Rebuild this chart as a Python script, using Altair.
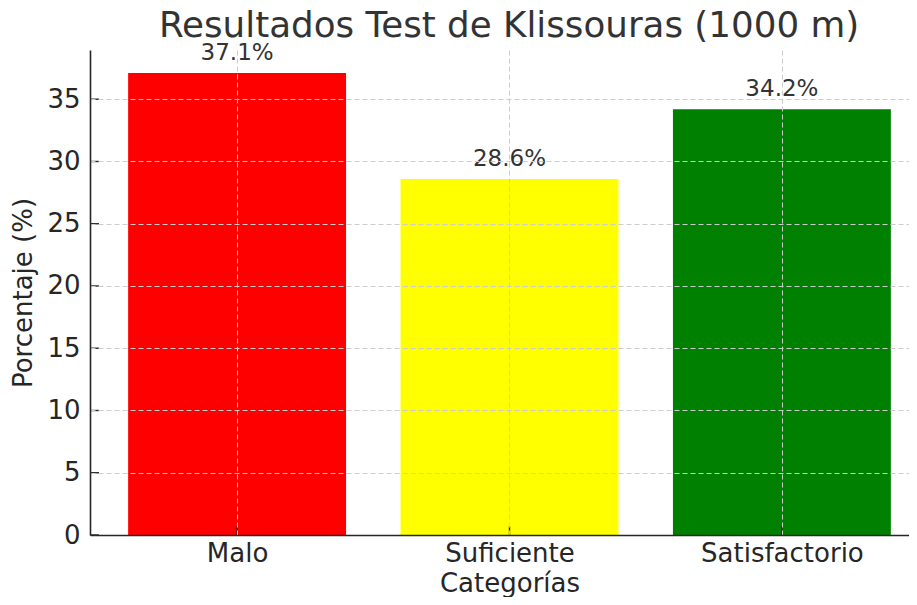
import altair as alt
import pandas as pd

categorias = ["Malo", "Suficiente", "Satisfactorio"]
porcentajes = [37.1, 28.6, 34.2]
colores = ["#ff0000", "#ffff00", "#008000"]
etiquetas = ["37.1%", "28.6%", "34.2%"]
y_ticks = [0, 5, 10, 15, 20, 25, 30, 35]
titulo = "Resultados Test de Klissouras (1000 m)"

df = pd.DataFrame({
    "cat": categorias,
    "pos": list(range(len(categorias))),
    "val": porcentajes,
    "label": etiquetas,
    "color": colores,
})
df["x0"] = df["pos"] - 0.4
df["x1"] = df["pos"] + 0.4

label_expr = " : ".join(
    [f"datum.value == {i} ? '{c}'" for i, c in enumerate(categorias)]
) + " : ''"

FONT = "DejaVu Sans"
xscale = alt.Scale(domain=[-0.54, 2.4666], nice=False, zero=False, padding=0)
yscale = alt.Scale(domain=[0, 38.955], nice=False, padding=0)

base = alt.Chart(df)

bars = base.mark_bar(cornerRadius=0).encode(
    x=alt.X("x0:Q", scale=xscale,
            axis=alt.Axis(values=[0, 1, 2], labelExpr=label_expr, title="Categorías",
                          grid=True, gridDash=[5, 3], gridColor="#cccccc", gridWidth=1,
                          ticks=False, domainColor="#262626", domainWidth=1.6,
                          labelFont=FONT, labelFontSize=26, labelColor="#262626",
                          labelBaseline="alphabetic", labelPadding=26,
                          titleFont=FONT, titleFontSize=26,
                          titleFontWeight="normal", titleColor="#262626",
                          titleX=419.5, titleY=56, titleBaseline="alphabetic",
                          zindex=1, labelFlush=False)),
    x2="x1:Q",
    y=alt.Y("val:Q", scale=yscale,
            axis=alt.Axis(values=y_ticks, title="Porcentaje (%)",
                          grid=True, gridDash=[5, 3], gridColor="#cccccc", gridWidth=1,
                          ticks=False, domainColor="#262626", domainWidth=1.6,
                          labelFont=FONT, labelFontSize=26, labelColor="#262626",
                          labelPadding=10, titleFont=FONT, titleFontSize=26,
                          titleFontWeight="normal", titleColor="#262626",
                          titleX=-67, titleY=242.5, titleBaseline="middle",
                          titleAlign="center", zindex=1)),
    y2=alt.datum(0),
    color=alt.Color("color:N", scale=None),
)

text = base.mark_text(font=FONT, fontSize=23, color="#333333", baseline="alphabetic", dy=-13).encode(
    x=alt.X("pos:Q", scale=xscale),
    y=alt.Y("val:Q", scale=yscale),
    text="label:N",
)

title_df = pd.DataFrame({"t": [titulo]})
title_mark = alt.Chart(title_df).mark_text(
    font=FONT, fontSize=35.7, color="#333333", baseline="alphabetic", align="center"
).encode(
    x=alt.value(419),
    y=alt.value(-13),
    text="t:N",
)

ytick_df = pd.DataFrame({"t": y_ticks})
yticks = alt.Chart(ytick_df).mark_rule(color="#262626", strokeWidth=1.4).encode(
    y=alt.Y("t:Q", scale=yscale),
    x=alt.value(0),
    x2=alt.value(9),
)

xtick_df = pd.DataFrame({"p": list(range(len(categorias)))})
xticks = alt.Chart(xtick_df).mark_rule(color="#262626", strokeWidth=1.4).encode(
    x=alt.X("p:Q", scale=xscale),
    y=alt.value(485),
    y2=alt.value(476),
)

chart = alt.layer(bars, text, yticks, xticks, title_mark).properties(
    width=819,
    height=485,
    autosize=alt.AutoSizeParams(type="none"),
    padding={"left": 82, "top": 42, "right": 0, "bottom": 62},
).configure_view(stroke=None)

chart.save("out.html", embed_options={"renderer": "svg", "actions": False})
